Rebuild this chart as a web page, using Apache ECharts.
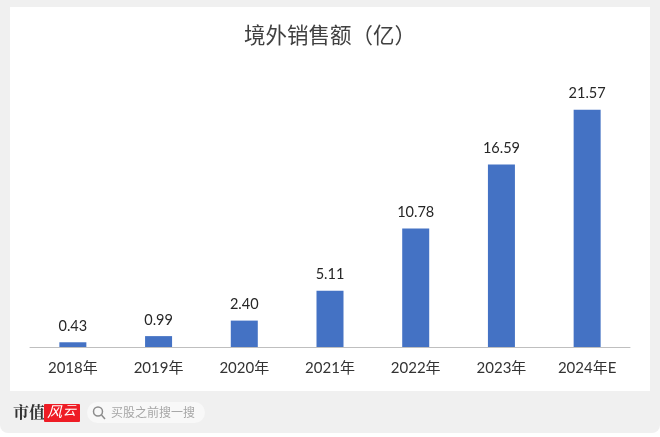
<!DOCTYPE html>
<html><head><meta charset="utf-8">
<style>html,body{margin:0;padding:0;background:#fff}#c{width:660px;height:437px}</style>
<script src="https://cdn.jsdelivr.net/npm/echarts@6/dist/echarts.min.js"></script>
</head><body><div id="c"></div>
<script>
const categories = ['2018年','2019年','2020年','2021年','2022年','2023年','2024年E'];
const values = [0.43,0.99,2.40,5.11,10.78,16.59,21.57];
const labels = ['0.43','0.99','2.40','5.11','10.78','16.59','21.57'];
const titleText = '境外销售额（亿）';
const fontLatin = 'Lato, "Noto Sans CJK SC", sans-serif';
const fontCjk = '"Noto Sans CJK SC", sans-serif';
const chart = echarts.init(document.getElementById('c'), null, {renderer:'canvas'});
chart.setOption({
  animation:false,
  backgroundColor:'#ffffff',
  title:{text:titleText,left:325,top:19,textAlign:'center',
    textStyle:{fontFamily:fontCjk,fontSize:21.5,fontWeight:'normal',color:'#404040'}},
  grid:{left:30,right:30,top:72,bottom:90},
  xAxis:{type:'category',data:categories,
    axisLine:{lineStyle:{color:'#bfbfbf',width:1}},
    axisTick:{show:false},
    axisLabel:{margin:14,fontFamily:fontLatin,fontSize:15,color:'#333333'}},
  yAxis:{type:'value',min:0,max:25,show:false,splitLine:{show:false}},
  series:[{type:'bar',data:values,barWidth:27,
    itemStyle:{color:'#4472c4'},
    label:{show:true,position:'top',distance:9,fontFamily:fontLatin,fontSize:14.5,color:'#262626',
      formatter:p=>labels[p.dataIndex]}}],
  graphic:[
    {type:'rect',z:-10,silent:true,shape:{x:0,y:0,width:660,height:433,r:[0,0,8,8]},style:{fill:'#f0f0f0'}},
    {type:'rect',z:-9,silent:true,shape:{x:10,y:7,width:640,height:384},style:{fill:'#ffffff'}},
    {type:'text',z:5,style:{x:13,y:404,text:'市值',fill:'#333333',font:'bold 16px "Noto Serif CJK SC","Liberation Serif","Noto Sans CJK SC",serif'}},
    {type:'rect',z:5,shape:{x:44,y:404,width:36,height:18,r:1},style:{fill:'#ee1c25'}},
    {type:'text',z:6,style:{x:47,y:404,text:'风',fill:'#ffffff',font:'italic 15px "Noto Sans CJK SC",sans-serif'}},
    {type:'text',z:6,style:{x:63,y:404,text:'云',fill:'#ffffff',font:'italic 13px "Noto Sans CJK SC",sans-serif'}},
    {type:'rect',z:5,shape:{x:87,y:402,width:118,height:21,r:10.5},style:{fill:'#f8f8f8'}},
    {type:'circle',z:6,shape:{cx:98,cy:411.5,r:4.5},style:{fill:'none',stroke:'#8c8c8c',lineWidth:1.5}},
    {type:'line',z:6,shape:{x1:101.5,y1:415,x2:105,y2:419},style:{stroke:'#8c8c8c',lineWidth:1.5}},
    {type:'text',z:6,style:{x:111,y:406,text:'买股之前搜一搜',fill:'#a6a6a6',font:'12px "Noto Sans CJK SC",sans-serif'}}
  ]
});
</script></body></html>
